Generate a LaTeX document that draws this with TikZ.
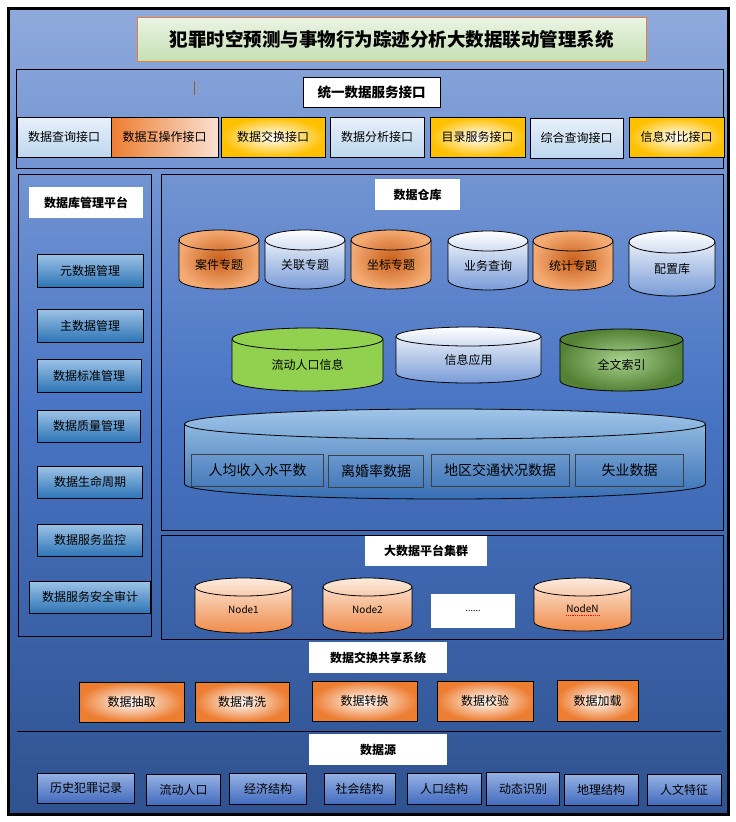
\documentclass[tikz,border=0pt]{standalone}
\usepackage{fontspec}
\setmainfont{Noto Sans CJK SC}
\definecolor{bgtop}{RGB}{143,170,220}
\definecolor{bgmid}{RGB}{72,116,196}
\definecolor{bgbot}{RGB}{47,82,143}
\definecolor{ttlA}{RGB}{235,244,228}
\definecolor{ttlB}{RGB}{197,224,180}
\definecolor{ttlline}{RGB}{237,125,49}
\definecolor{paleA}{RGB}{232,240,250}
\definecolor{paleB}{RGB}{189,215,238}
\definecolor{goldc}{RGB}{255,192,0}
\definecolor{orng}{RGB}{237,125,49}
\definecolor{orngL}{RGB}{250,225,210}
\definecolor{mgA}{RGB}{157,195,230}
\definecolor{mgB}{RGB}{46,117,182}
\definecolor{cylO}{RGB}{200,95,25}
\definecolor{cylOL}{RGB}{244,170,115}
\definecolor{cylB}{RGB}{120,155,215}
\definecolor{flowgreen}{RGB}{146,208,80}
\definecolor{dkgreen}{RGB}{84,130,53}
\definecolor{ltgreen}{RGB}{169,209,142}
\definecolor{bigA}{RGB}{160,198,232}
\definecolor{bigB}{RGB}{55,110,180}
\definecolor{nodeA}{RGB}{252,235,222}
\definecolor{nodeB}{RGB}{240,140,75}
\definecolor{srcA}{RGB}{150,178,228}
\definecolor{srcB}{RGB}{68,108,190}
% #2 name, #3 centre x, #4 top, #5 half width, #6 bottom, #7 cap radius, #8 fill, #9 text
\newcommand{\tub}[9][]{%
	\path[#8, draw=black, line width=0.8pt] (#3-#5,#4+#7) -- (#3-#5,#6-#7) arc[start angle=180, end angle=0, x radius=#5, y radius=#7] -- (#3+#5,#4+#7) arc[start angle=0, end angle=-180, x radius=#5, y radius=#7] -- cycle;
	\draw[line width=0.8pt] (#3-#5,#4+#7) arc[start angle=180, end angle=0, x radius=#5, y radius=#7];
	\node[inner sep=0pt, font=\fontsize{12}{14}\selectfont, #1] (#2) at (#3,{(#4+#6)/2+#7/2}) {#9};
}
\begin{document}
\begin{tikzpicture}[x=1pt, y=-1pt,
	ibox/.style={draw=black, line width=0.8pt, inner sep=0pt, font=\fontsize{12}{14}\selectfont},
	hdr/.style={fill=white, inner sep=0pt, font=\bfseries\fontsize{12}{14}\selectfont},
	pale/.style={ibox, top color=paleA, bottom color=paleB},
	goldbox/.style={ibox, inner color=white, outer color=goldc},
	mgbox/.style={ibox, top color=mgA, bottom color=mgB},
	proc/.style={ibox, inner color=white, outer color=orng},
	src/.style={ibox, top color=srcA, bottom color=srcB},
	orngdb/.style={inner color=cylO, outer color=cylOL},
	bluedb/.style={top color=white, bottom color=cylB},
	nodedb/.style={top color=nodeA, bottom color=nodeB},
	datbox/.style={draw=black!75, line width=0.8pt, inner sep=0pt, font=\fontsize{14}{16}\selectfont},
	panel/.style={draw=black, line width=0.8pt}]
	\fill[white] (0,0) rectangle (736,822);
	\useasboundingbox (0,0) rectangle (736,822);
	\draw[line width=3pt, top color=bgtop, bottom color=bgbot, middle color=bgmid] (8,8) rectangle (728,814);

	\node[draw=ttlline, line width=1pt, top color=ttlA, bottom color=ttlB, minimum width=509, minimum height=44, font=\bfseries\fontsize{18.5}{20}\selectfont] (title) at (391.5,39) {犯罪时空预测与事物行为踪迹分析大数据联动管理系统};

	\draw[panel] (16,69) rectangle (723,168);
	\draw[draw=ttlline!70!black, line width=0.8pt] (194,81) -- (194,95);
	\node[hdr, draw=black, line width=0.8pt, minimum width=137, minimum height=30, font=\bfseries\fontsize{13.5}{15}\selectfont] (api) at (371.5,92) {统一数据服务接口};
	\node[pale, minimum width=94, minimum height=40] (query) at (64,137) {数据查询接口};
	\node[ibox, left color=orng, right color=orngL, minimum width=107, minimum height=40] (interop) at (164.5,137) {数据互操作接口};
	\node[goldbox, minimum width=104, minimum height=40] (exch) at (273,137) {数据交换接口};
	\node[pale, minimum width=94, minimum height=40] (analy) at (377,137) {数据分析接口};
	\node[goldbox, minimum width=95, minimum height=40] (catalog) at (477.5,137) {目录服务接口};
	\node[pale, minimum width=93, minimum height=40] (multi) at (576.5,138) {综合查询接口};
	\node[goldbox, minimum width=95, minimum height=40] (compare) at (676.5,137) {信息对比接口};

	\draw[panel] (18,174) rectangle (151,636);
	\node[hdr, minimum width=114, minimum height=31] (dbms) at (86,202.5) {数据库管理平台};
	\node[mgbox, minimum width=106, minimum height=33] (meta) at (90,270.5) {元数据管理};
	\node[mgbox, minimum width=106, minimum height=33] (master) at (90,325.5) {主数据管理};
	\node[mgbox, minimum width=104, minimum height=33] (std) at (89,375.5) {数据标准管理};
	\node[mgbox, minimum width=103, minimum height=32] (quality) at (89,426) {数据质量管理};
	\node[mgbox, minimum width=104.5, minimum height=32] (life) at (90,482) {数据生命周期};
	\node[mgbox, minimum width=104.5, minimum height=32] (monitor) at (90,540) {数据服务监控};
	\node[mgbox, minimum width=121, minimum height=32] (audit) at (90,597) {数据服务安全审计};

	\draw[panel] (161,174) rectangle (723,530);
	\node[hdr, minimum width=85, minimum height=31] (dw) at (417.5,194.5) {数据仓库};
	\tub{case}{219}{230}{40}{289}{10}{orngdb}{案件专题}
	\tub{link}{305}{230}{40}{289}{10}{bluedb}{关联专题}
	\tub{coord}{391}{230}{40}{289}{10}{orngdb}{坐标专题}
	\tub{biz}{488}{231}{40}{290}{10}{bluedb}{业务查询}
	\tub{stat}{573}{231}{40}{290}{10}{orngdb}{统计专题}
	\tub{config}{672}{231}{43}{296}{11}{bluedb}{配置库}
	\tub{flow}{307.5}{328}{75.5}{391}{11}{fill=flowgreen}{流动人口信息}
	\tub{infoapp}{468.5}{327}{72.5}{383}{9.5}{bluedb}{信息应用}
	\tub{fulltext}{621.5}{329}{61.5}{391}{10.5}{inner color=ltgreen, outer color=dkgreen}{全文索引}
	\tub{base}{445}{409}{260.5}{499}{15}{top color=bigA, bottom color=bigB}{}
	\node[datbox, minimum width=132, minimum height=32] (income) at (257.5,470) {人均收入水平数};
	\node[datbox, minimum width=94.5, minimum height=32] (divorce) at (376,471) {离婚率数据};
	\node[datbox, minimum width=138, minimum height=32] (traffic) at (500,470) {地区交通状况数据};
	\node[datbox, minimum width=108, minimum height=32] (jobless) at (629.6,470) {失业数据};

	\draw[panel] (161,535) rectangle (723,639);
	\node[hdr, minimum width=122, minimum height=30] (cluster) at (426,551) {大数据平台集群};
	\tub[font=\fontsize{10}{12}\selectfont]{n1}{243.5}{578}{48.5}{633}{9}{nodedb}{Node1}
	\tub[font=\fontsize{10}{12}\selectfont]{n2}{367.5}{578}{44.5}{633}{9}{nodedb}{Node2}
	\node[fill=white, inner sep=0pt, minimum width=84.5, minimum height=34, font=\fontsize{9}{10}\selectfont] (dots) at (473,611) {......};
	\tub[font=\fontsize{10}{12}\selectfont]{nN}{582.5}{578}{48.5}{631}{9}{nodedb}{NodeN}
	\draw[red, densely dotted, line width=0.8pt] (nN.south west) ++(0,2) -- ++(33,0);

	\node[hdr, minimum width=138, minimum height=31] (share) at (378,657.5) {数据交换共享系统};
	\node[proc, minimum width=105, minimum height=40] (extract) at (131.5,702) {数据抽取};
	\node[proc, minimum width=94, minimum height=40] (clean) at (242,702) {数据清洗};
	\node[proc, minimum width=105, minimum height=40] (trans) at (364.5,701) {数据转换};
	\node[proc, minimum width=96, minimum height=40] (check) at (485,701) {数据校验};
	\node[proc, minimum width=81, minimum height=41] (load) at (597.5,700.5) {数据加载};

	\coordinate (sepL) at (17,731);
	\coordinate (sepR) at (721,731);
	\draw[line width=0.8pt] (sepL) -- (sepR);
	\node[hdr, minimum width=138, minimum height=31] (source) at (378,749.5) {数据源};
	\node[src, minimum width=97.5, minimum height=30] (crime) at (86,788) {历史犯罪记录};
	\node[src, minimum width=74, minimum height=31] (people) at (183.6,789.5) {流动人口};
	\node[src, minimum width=77, minimum height=31] (econ) at (268,788.5) {经济结构};
	\node[src, minimum width=71, minimum height=31] (social) at (359.5,788.5) {社会结构};
	\node[src, minimum width=74, minimum height=31] (popu) at (444,788.5) {人口结构};
	\node[src, minimum width=73.6, minimum height=33] (dyn) at (523,788.5) {动态识别};
	\node[src, minimum width=74, minimum height=31] (geo) at (601,789.5) {地理结构};
	\node[src, minimum width=74, minimum height=31] (human) at (684,789.5) {人文特征};
\end{tikzpicture}
\end{document}
